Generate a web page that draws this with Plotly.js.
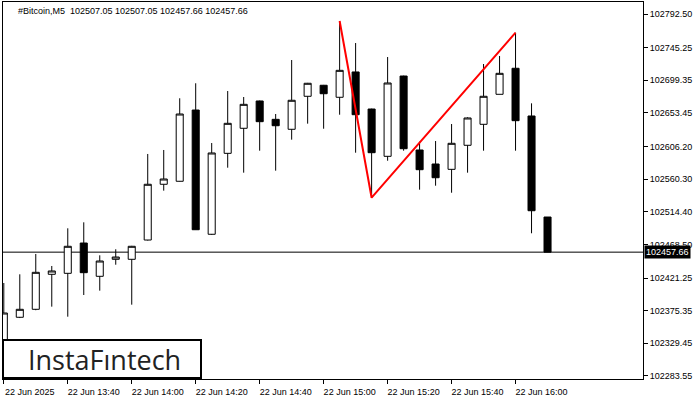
<!DOCTYPE html>
<html>
<head>
<meta charset="utf-8">
<script src="https://cdn.plot.ly/plotly-3.0.1.min.js"></script>
<style>html,body{margin:0;padding:0;background:#fff;}#chart{width:700px;height:400px;}</style>
</head>
<body>
<div id="chart"></div>
<script>
// ---- data ----
var candleTimes = ['13:20','13:25','13:30','13:35','13:40','13:45','13:50','13:55','14:00','14:05',
  '14:10','14:15','14:20','14:25','14:30','14:35','14:40','14:45','14:50','14:55',
  '15:00','15:05','15:10','15:15','15:20','15:25','15:30','15:35','15:40','15:45',
  '15:50','15:55','16:00','16:05','16:10'];
var opens  = [102330.0,102366.1,102377.3,102426.5,102427.9,102470.5,102423.7,102447.6,102447.6,102474.7,
  102553.1,102557.3,102657.5,102482.8,102596.6,102631.8,102670.2,102644.4,102630.4,102676.8,
  102692.3,102675.4,102711.0,102658.9,102592.4,102705.3,102601.3,102581.6,102574.1,102607.9,
  102637.4,102679.6,102716.2,102649.1,102507.05];
var highs  = [102414.3,102426.5,102455.1,102438.2,102491.2,102499.6,102453.2,102461.7,102466.5,102595.7,
  102601.3,102674.0,102695.1,102611.1,102684.2,102675.8,102670.8,102651.9,102727.8,102695.6,
  102692.8,102782.7,102751.7,102659.4,102732.0,102705.8,102613.0,102613.9,102637.8,102647.3,
  102722.2,102733.4,102766.2,102666.9,102507.05];
var lows   = [102318.0,102365.0,102376.0,102381.0,102366.9,102397.4,102403.5,102440.0,102383.8,102474.0,
  102544.1,102557.0,102489.0,102482.0,102576.4,102569.4,102600.3,102572.2,102615.8,102638.3,
  102631.2,102650.9,102597.5,102534.2,102586.2,102600.3,102545.5,102551.1,102541.2,102569.4,
  102600.3,102679.6,102600.3,102484.2,102457.66];
var closes = [102372.1,102377.3,102429.3,102431.2,102465.9,102428.8,102445.2,102450.8,102465.9,102553.1,
  102560.5,102651.9,102489.2,102597.1,102638.8,102665.5,102641.1,102635.4,102671.2,102695.1,
  102680.4,102713.3,102650.9,102597.5,102695.5,102603.1,102573.6,102562.3,102610.7,102646.3,
  102676.8,102709.1,102642.5,102515.9,102457.66];
var patternTimes  = ['15:05','15:15','16:00'];
var patternPrices = [102782.7,102534.2,102766.2];
var xTickTimes  = ['13:20','13:40','14:00','14:20','14:40','15:00','15:20','15:40','16:00'];
var xTickLabels = ['22 Jun 2025','22 Jun 13:40','22 Jun 14:00','22 Jun 14:20','22 Jun 14:40','22 Jun 15:00','22 Jun 15:20','22 Jun 15:40','22 Jun 16:00'];
var yTickVals = [102792.50,102745.25,102699.35,102653.45,102606.20,102560.30,102514.40,102468.50,102421.25,102375.35,102329.45,102283.55];
var bidPrice = 102457.66;
var titleText = '#Bitcoin,M5  102507.05 102507.05 102457.66 102457.66';
var logoText = 'InstaF\u0131ntech';

// ---- chart ----
var xs = candleTimes.map(function(t,i){return i;});
var idx = function(t){return candleTimes.indexOf(t);};
var font = 'Liberation Sans, Arial, sans-serif';

var candles = {
  type:'candlestick', x:xs, open:opens, high:highs, low:lows, close:closes,
  increasing:{line:{color:'#000',width:1}, fillcolor:'#fff'},
  decreasing:{line:{color:'#000',width:1}, fillcolor:'#000'},
  whiskerwidth:0, hoverinfo:'skip', showlegend:false
};
var pattern = {
  type:'scatter', mode:'lines', x:patternTimes.map(idx), y:patternPrices,
  line:{color:'#ff0000',width:2}, hoverinfo:'skip', showlegend:false
};

var layout = {
  width:700, height:400,
  margin:{l:3, r:57, t:2, b:21, pad:0},
  paper_bgcolor:'#fff', plot_bgcolor:'#fff',
  showlegend:false, boxgap:0.37,
  font:{family:font, size:9, color:'#000'},
  title:{text:titleText, x:18/700, xanchor:'left', xref:'container', y:1-11/400, yanchor:'middle', yref:'container',
         font:{family:font, size:9, color:'#000'}},
  xaxis:{
    range:[-0.05, 39.97], rangeslider:{visible:false}, type:'linear',
    tickvals:xTickTimes.map(idx), ticktext:xTickLabels, ticklabelshift:26,
    ticks:'outside', ticklen:4, tickcolor:'#000', tickwidth:1,
    showline:true, mirror:true, linecolor:'#000', linewidth:1,
    showgrid:false, zeroline:false, tickfont:{family:font,size:9,color:'#000'}
  },
  yaxis:{
    side:'right', range:[102279.31, 102809.37],
    tickvals:yTickVals, ticktext:yTickVals.map(function(v){return v.toFixed(2);}),
    ticks:'outside', ticklen:4, tickcolor:'#000', tickwidth:1,
    showline:true, mirror:true, linecolor:'#000', linewidth:1,
    showgrid:false, zeroline:false, tickfont:{family:font,size:9,color:'#000'}
  },
  shapes:[
    {type:'line', xref:'paper', yref:'y', x0:0, x1:1, y0:bidPrice, y1:bidPrice, line:{color:'#000',width:1}, layer:'below'},
    {type:'rect', xref:'paper', yref:'paper', x0:0, x1:198/640, y0:1/377, y1:39/377, fillcolor:'#fff', line:{color:'#000',width:2}, layer:'above'}
  ],
  annotations:[
    {xref:'paper', yref:'y', x:1, y:bidPrice, xanchor:'left', yanchor:'middle', xshift:1,
     text:bidPrice.toFixed(2), showarrow:false, bgcolor:'#000', borderpad:1,
     font:{family:font,size:9,color:'#fff'}},
    {xref:'paper', yref:'paper', x:101/640, y:20/377, xanchor:'center', yanchor:'middle',
     text:logoText, showarrow:false, font:{family:'Open Sans, sans-serif', size:27, color:'#222'}}
  ]
};

Plotly.newPlot('chart', [candles, pattern], layout, {staticPlot:true, displayModeBar:false});
</script>
</body>
</html>
